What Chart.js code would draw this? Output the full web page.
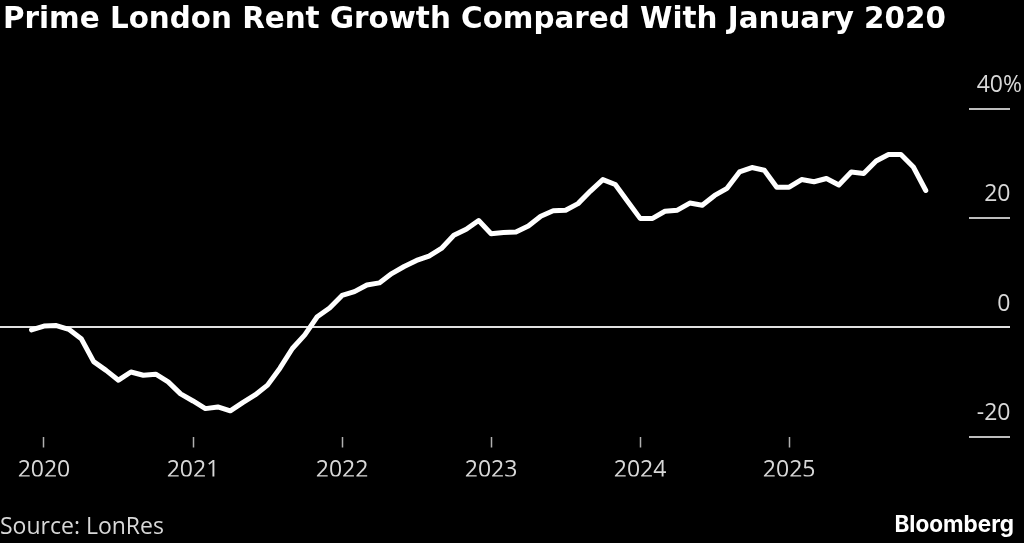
<!DOCTYPE html>
<html>
<head>
<meta charset="utf-8">
<script src="https://cdn.jsdelivr.net/npm/chart.js@4.4.1/dist/chart.umd.min.js"></script>
<style>
  html, body { margin: 0; padding: 0; background: #000; }
  #wrap { position: relative; width: 1024px; height: 543px; background: #000; overflow: hidden; }
  #rentChart { position: absolute; left: 0; top: 0; }
  .title { position: absolute; left: 3px; top: 4px; font: bold 29.4px "DejaVu Sans"; line-height: 29.4px; color: #fff; white-space: nowrap; }
  .source { position: absolute; left: 0; top: 514px; font: 23px "Open Sans"; line-height: 23px; color: #d8d8d8; }
  .brand { position: absolute; right: 10px; top: 513px; font: bold 22.5px Inter; line-height: 22.5px; color: #fff; }
</style>
</head>
<body>
<div id="wrap">
  <canvas id="rentChart" width="1024" height="543"></canvas>
  <div class="title">Prime London Rent Growth Compared With January 2020</div>
  <div class="source">Source: LonRes</div>
  <div class="brand">Bloomberg</div>
</div>
<script>
// monthly readings, Dec 2019 to Dec 2025 (% vs Jan 2020)
const months = [
  '2019-12',
  '2020-01', '2020-02', '2020-03', '2020-04', '2020-05', '2020-06', '2020-07', '2020-08', '2020-09', '2020-10', '2020-11', '2020-12',
  '2021-01', '2021-02', '2021-03', '2021-04', '2021-05', '2021-06', '2021-07', '2021-08', '2021-09', '2021-10', '2021-11', '2021-12',
  '2022-01', '2022-02', '2022-03', '2022-04', '2022-05', '2022-06', '2022-07', '2022-08', '2022-09', '2022-10', '2022-11', '2022-12',
  '2023-01', '2023-02', '2023-03', '2023-04', '2023-05', '2023-06', '2023-07', '2023-08', '2023-09', '2023-10', '2023-11', '2023-12',
  '2024-01', '2024-02', '2024-03', '2024-04', '2024-05', '2024-06', '2024-07', '2024-08', '2024-09', '2024-10', '2024-11', '2024-12',
  '2025-01', '2025-02', '2025-03', '2025-04', '2025-05', '2025-06', '2025-07', '2025-08', '2025-09', '2025-10', '2025-11', '2025-12'
];
const rentGrowth = [
  -0.5,
  0.2, 0.3, -0.4, -2.1, -6.3, -7.9, -9.7, -8.2, -8.8, -8.6, -10.0, -12.2,
  -13.5, -14.9, -14.6, -15.3, -13.8, -12.4, -10.6, -7.5, -3.9, -1.4, 1.9, 3.5,
  5.8, 6.5, 7.7, 8.1, 9.8, 11.1, 12.2, 13.0, 14.4, 16.8, 17.9, 19.5,
  17.1, 17.3, 17.4, 18.5, 20.3, 21.3, 21.4, 22.6, 24.9, 27.0, 26.1, 23.0,
  19.9, 19.9, 21.2, 21.4, 22.7, 22.3, 24.1, 25.4, 28.4, 29.2, 28.7, 25.6,
  25.6, 27.0, 26.6, 27.2, 26.0, 28.4, 28.1, 30.4, 31.6, 31.6, 29.3, 25.0
];
const yearLabels = ['2020', '2021', '2022', '2023', '2024', '2025'];
const yTicks = [-20, 0, 20, 40];

// month index counted from Jan 2020
const points = months.map((m, i) => {
  const [yr, mo] = m.split('-').map(Number);
  return { x: (yr - 2020) * 12 + (mo - 1), y: rentGrowth[i] };
});

const labelFont = { family: 'Open Sans', size: 23 };

new Chart(document.getElementById('rentChart').getContext('2d'), {
  type: 'line',
  data: {
    datasets: [{
      data: points,
      borderColor: '#ffffff',
      borderWidth: 5,
      borderJoinStyle: 'round',
      borderCapStyle: 'round',
      pointRadius: 0,
      tension: 0
    }]
  },
  options: {
    responsive: false,
    animation: false,
    layout: { padding: { top: 108.5, right: 14, bottom: 66.5, left: 0 } },
    plugins: { legend: { display: false }, tooltip: { enabled: false } },
    scales: {
      x: {
        type: 'linear',
        min: -3.54,
        max: 74.48,
        border: { display: false },
        grid: { drawOnChartArea: false, drawTicks: true, tickLength: 11, tickColor: '#b0b0b0', tickWidth: 1.5 },
        afterBuildTicks: axis => { axis.ticks = yearLabels.map((_, i) => ({ value: i * 12 })); },
        afterFit: axis => { axis.height = 40; },
        ticks: {
          autoSkip: false,
          maxRotation: 0,
          padding: 9,
          color: '#d8d8d8',
          font: labelFont,
          callback: v => yearLabels[v / 12]
        }
      },
      y: {
        position: 'right',
        min: -20,
        max: 40,
        border: { display: false },
        afterBuildTicks: axis => { axis.ticks = yTicks.map(v => ({ value: v })); },
        afterFit: axis => { axis.width = 41; },
        grid: {
          color: c => (c.tick && c.tick.value === 0 ? '#e0e0e0' : 'rgba(0,0,0,0)'),
          lineWidth: 2,
          drawTicks: true,
          tickLength: 41,
          tickColor: c => (c.tick && c.tick.value === 0 ? '#e0e0e0' : '#bdbdbd'),
          tickWidth: 2
        },
        ticks: {
          mirror: true,
          padding: 53,
          labelOffset: -23,
          color: '#d8d8d8',
          font: labelFont,
          callback: v => (v === 40 ? '40%' : v + '\u2002')
        }
      }
    }
  }
});
</script>
</body>
</html>
